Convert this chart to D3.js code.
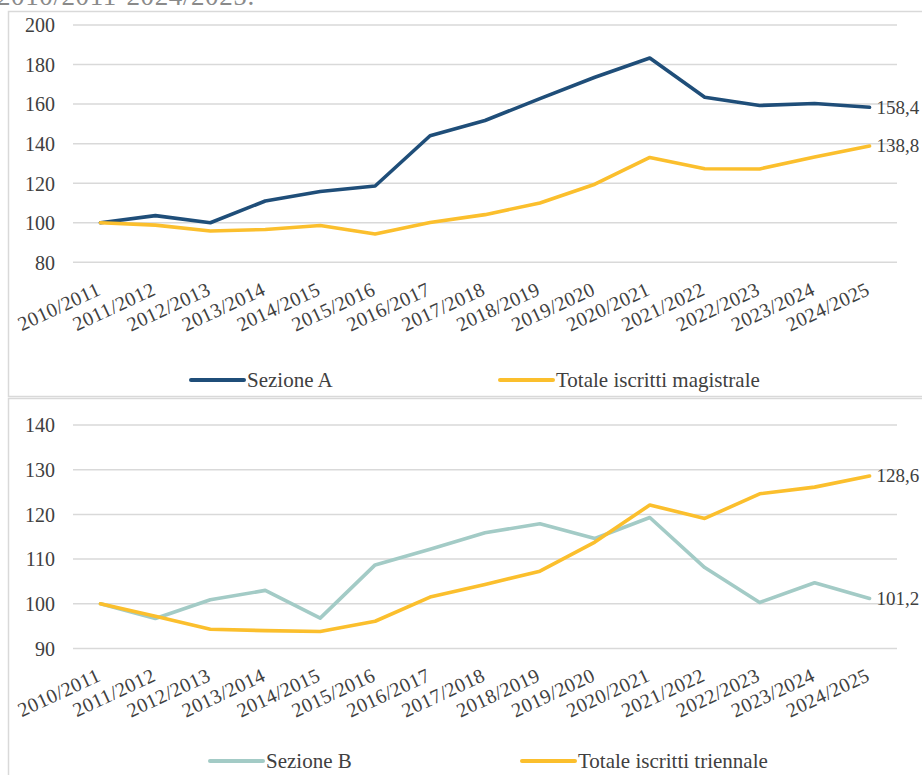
<!DOCTYPE html>
<html>
<head>
<meta charset="utf-8">
<script src="https://cdn.jsdelivr.net/npm/d3@7/dist/d3.min.js"></script>
<style>
  html, body { margin: 0; padding: 0; background: #ffffff; }
  svg { display: block; }
  svg text { font-family: "Liberation Serif", "DejaVu Serif", "Noto Serif", "Times New Roman", serif !important; fill: #404040; }
</style>
</head>
<body>
<svg id="chart" width="922" height="775"></svg>
<script>
// ---------- data ----------
const categories = ["2010/2011","2011/2012","2012/2013","2013/2014","2014/2015","2015/2016","2016/2017","2017/2018","2018/2019","2019/2020","2020/2021","2021/2022","2022/2023","2023/2024","2024/2025"];

const sezioneA = [100, 103.6, 100, 111, 115.8, 118.6, 144, 151.7, 162.8, 173.6, 183.3, 163.5, 159.3, 160.3, 158.4];
const totaleMagistrale = [100, 98.8, 95.8, 96.6, 98.6, 94.3, 100.1, 104.1, 110, 119.5, 133, 127.3, 127.2, 133.3, 138.8];

const sezioneB = [100, 96.7, 100.9, 103, 96.8, 108.7, 112.2, 115.9, 117.9, 114.6, 119.3, 108.1, 100.3, 104.7, 101.2];
const totaleTriennale = [100, 97.2, 94.3, 94, 93.8, 96.1, 101.5, 104.3, 107.3, 113.8, 122.1, 119.1, 124.6, 126.1, 128.6];

const ticksTop = [80, 100, 120, 140, 160, 180, 200];
const ticksBottom = [90, 100, 110, 120, 130, 140];

const endLabelsTop = ["158,4", "138,8"];
const endLabelsBottom = ["101,2", "128,6"];

const legendTop = ["Sezione A", "Totale iscritti magistrale"];
const legendBottom = ["Sezione B", "Totale iscritti triennale"];

const captionText = "2010/2011-2024/2025.";

// ---------- styles ----------
const FONT = "'Liberation Serif', 'DejaVu Serif', serif";
const colBlue = "#1f4e79";
const colYellow = "#fbbf2d";
const colTeal = "#a3cbc6";
const gridCol = "#d9d9d9";
const borderCol = "#d9d9d9";

const svg = d3.select("#chart");

// caption (clipped at top, as in the source page)
svg.append("text")
  .attr("x", -3).attr("y", 5)
  .attr("font-family", FONT)
  .style("font-size", "27px").style("fill", "#8a8a8a")
  .style("letter-spacing", "0.6px")
  .text(captionText);

// panel borders
svg.append("rect").attr("x", 8.5).attr("y", 11.5).attr("width", 925).attr("height", 385)
  .attr("fill", "none").attr("stroke", borderCol).attr("stroke-width", 1.5);
svg.append("rect").attr("x", 8.5).attr("y", 398.5).attr("width", 925).attr("height", 400)
  .attr("fill", "none").attr("stroke", borderCol).attr("stroke-width", 1.5);

function drawPanel(cfg) {
  const g = svg.append("g").attr("font-family", FONT);
  const x = d3.scalePoint().domain(categories).range([73, 897]).padding(0.5);
  const y = d3.scaleLinear().domain(cfg.domain).range(cfg.range);

  // gridlines
  g.selectAll("line.grid").data(cfg.ticks).enter().append("line")
    .attr("x1", 73).attr("x2", 897)
    .attr("y1", d => y(d)).attr("y2", d => y(d))
    .attr("stroke", gridCol).attr("stroke-width", 1.5);

  // y axis labels via d3 axis
  const yAxis = d3.axisLeft(y).tickValues(cfg.ticks).tickSize(0).tickPadding(0).tickFormat(d3.format("d"));
  const ya = g.append("g").attr("transform", "translate(55,0)").call(yAxis).attr("font-family", FONT);
  ya.select(".domain").remove();
  ya.selectAll("text").style("font-size", "20px").style("fill", "#404040").attr("dy", "0.34em");

  // x axis labels
  const xAxis = d3.axisBottom(x).tickSize(0).tickPadding(0);
  const xa = g.append("g").attr("transform", `translate(0,${cfg.xLabelY})`).call(xAxis).attr("font-family", FONT);
  xa.select(".domain").remove();
  xa.selectAll("text")
    .style("font-size", "20px").style("fill", "#404040")
    .style("letter-spacing", "0.4px")
    .attr("text-anchor", "end")
    .attr("y", 0).attr("dy", 0)
    .attr("transform", "translate(1,0) rotate(-25)");

  // lines
  const line = d3.line().x((d, i) => x(categories[i])).y(d => y(d));
  cfg.series.forEach(s => {
    g.append("path").datum(s.values)
      .attr("d", line)
      .attr("fill", "none").attr("stroke", s.color).attr("stroke-width", 3.6)
      .attr("stroke-linejoin", "round").attr("stroke-linecap", "round");
    g.append("text")
      .attr("x", x(categories[categories.length - 1]) + 7)
      .attr("y", y(s.values[s.values.length - 1]))
      .attr("dy", "0.34em")
      .style("font-size", "19px")
      .text(s.label);
  });

  // legend
  cfg.legend.forEach(l => {
    g.append("line").attr("x1", l.x).attr("x2", l.x + 53)
      .attr("y1", cfg.legendY).attr("y2", cfg.legendY)
      .attr("stroke", l.color).attr("stroke-width", 4).attr("stroke-linecap", "round");
    g.append("text").attr("x", l.x + 56).attr("y", cfg.legendY).attr("dy", "0.32em")
      .style("font-size", "21px").text(l.name);
  });
}

drawPanel({
  domain: [80, 200], range: [262.3, 25], ticks: ticksTop, xLabelY: 294,
  series: [
    { values: sezioneA, color: colBlue, label: endLabelsTop[0] },
    { values: totaleMagistrale, color: colYellow, label: endLabelsTop[1] }
  ],
  legendY: 380,
  legend: [
    { name: legendTop[0], color: colBlue, x: 191 },
    { name: legendTop[1], color: colYellow, x: 500 }
  ]
});

drawPanel({
  domain: [90, 140], range: [648.5, 425], ticks: ticksBottom, xLabelY: 680,
  series: [
    { values: sezioneB, color: colTeal, label: endLabelsBottom[0] },
    { values: totaleTriennale, color: colYellow, label: endLabelsBottom[1] }
  ],
  legendY: 761,
  legend: [
    { name: legendBottom[0], color: colTeal, x: 210 },
    { name: legendBottom[1], color: colYellow, x: 522 }
  ]
});
</script>
</body>
</html>
